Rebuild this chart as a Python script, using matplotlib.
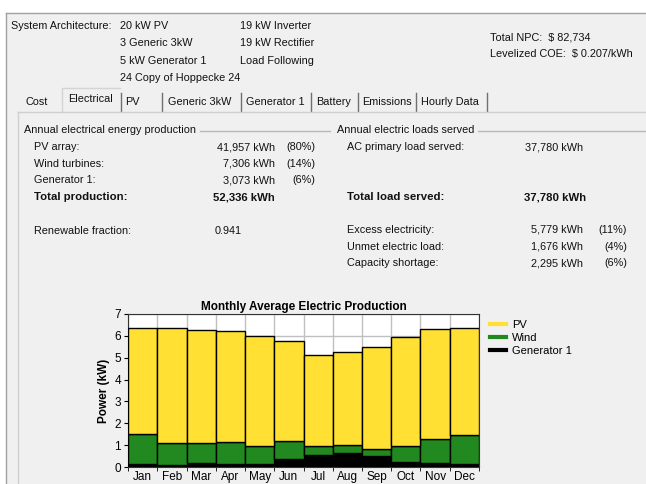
import matplotlib.pyplot as plt
from matplotlib.lines import Line2D
from matplotlib.patches import Rectangle
import numpy as np

# monthly average production (kW)
months = ['Jan', 'Feb', 'Mar', 'Apr', 'May', 'Jun', 'Jul', 'Aug', 'Sep', 'Oct', 'Nov', 'Dec']
gen1 = [0.15, 0.11, 0.20, 0.15, 0.15, 0.38, 0.54, 0.66, 0.49, 0.23, 0.18, 0.14]
wind_top = [1.51, 1.08, 1.08, 1.14, 0.95, 1.18, 0.95, 1.00, 0.82, 0.97, 1.28, 1.46]
total_top = [6.34, 6.34, 6.29, 6.20, 6.00, 5.78, 5.11, 5.26, 5.51, 5.97, 6.31, 6.35]
wind = [w - g for w, g in zip(wind_top, gen1)]
pv = [t - w for t, w in zip(total_top, wind_top)]

arch_col1 = ['20 kW PV', '3 Generic 3kW', '5 kW Generator 1', '24 Copy of Hoppecke 24']
arch_col2 = ['19 kW Inverter', '19 kW Rectifier', 'Load Following']
tabs = ['Cost', 'Electrical', 'PV', 'Generic 3kW', 'Generator 1', 'Battery', 'Emissions', 'Hourly Data']

prod_labels = ['PV array:', 'Wind turbines:', 'Generator 1:']
prod_values = ['41,957 kWh', '7,306 kWh', '3,073 kWh']
prod_pct = ['(80%)', '(14%)', '(6%)']
load_labels = ['Excess electricity:', 'Unmet electric load:', 'Capacity shortage:']
load_values = ['5,779 kWh', '1,676 kWh', '2,295 kWh']
load_pct = ['(11%)', '(4%)', '(6%)']

W, H = 646, 484
BG = '#f0f0f0'
YEL = '#ffe033'
GRN = '#21891f'
FS = 7.8
plt.rcParams['font.family'] = ['Liberation Sans', 'DejaVu Sans']

fig = plt.figure(figsize=(W / 100, H / 100), dpi=100, facecolor=BG)

# overlay in pixel coordinates for the dialog text
ov = fig.add_axes([0, 0, 1, 1], zorder=0)
ov.set_xlim(0, W)
ov.set_ylim(H, 0)
ov.axis('off')

def txt(x, y, s, ha='left', bold=False, size=FS):
    return ov.text(x, y, s, ha=ha, va='center', fontsize=size,
                   fontweight='bold' if bold else 'normal', color='#111111')

# window edges: white strip on top / left, then the frame
ov.add_patch(Rectangle((0, 0), W, 13, color='white', lw=0))
ov.add_patch(Rectangle((0, 0), 6, H, color='white', lw=0))
ov.plot([6, W], [13, 13], color='#a0a0a0', lw=1)
ov.plot([6, 6], [13, H], color='#a0a0a0', lw=1)

txt(11, 26, 'System Architecture:')
for i, s in enumerate(arch_col1):
    t = txt(120, 26 + i * 17.3, s)
    if i == 3:
        clip = Rectangle((0, 0), 239, H, transform=ov.transData, visible=False)
        ov.add_patch(clip)
        t.set_clip_path(clip)
for i, s in enumerate(arch_col2):
    txt(240, 26 + i * 17.3, s)
txt(490, 37, 'Total NPC:  $ 82,734')
txt(490, 54, 'Levelized COE:  $ 0.207/kWh')

# tabs
tab_x = [25, 68, 125, 168, 246, 316, 362, 421]
for x, s in zip(tab_x, tabs):
    txt(x, 102 if s != 'Electrical' else 99, s)
for x in [121, 162, 241, 311, 358, 416, 487]:
    ov.plot([x, x], [93, 111], color='#707070', lw=1)
ov.plot([62, 62, 120], [112, 88, 88], color='#d4d4d4', lw=1)
ov.plot([18, W], [112, 112], color='#cfcfcf', lw=1)
ov.plot([18, 18], [112, H], color='#cfcfcf', lw=1)

# annual production block
txt(24, 130, 'Annual electrical energy production')
ov.plot([200, 330], [131, 131], color='#b8b8b8', lw=1)
for i in range(3):
    y = 147 + i * 16.7
    txt(34, y, prod_labels[i])
    txt(275, y, prod_values[i], ha='right')
    txt(315, y, prod_pct[i], ha='right')
txt(34, 197, 'Total production:', bold=True, size=FS + 0.4)
txt(275, 197, '52,336 kWh', ha='right', bold=True, size=FS + 0.4)
txt(34, 231, 'Renewable fraction:')
txt(215, 231, '0.941')

# loads served block
txt(337, 130, 'Annual electric loads served')
ov.plot([478, W], [131, 131], color='#b8b8b8', lw=1)
txt(347, 147, 'AC primary load served:')
txt(583, 147, '37,780 kWh', ha='right')
txt(347, 197, 'Total load served:', bold=True, size=FS + 0.4)
txt(586, 197, '37,780 kWh', ha='right', bold=True, size=FS + 0.4)
for i in range(3):
    y = 230 + i * 16.7
    txt(347, y, load_labels[i])
    txt(583, y, load_values[i], ha='right')
    txt(627, y, load_pct[i], ha='right')

# chart
l, r, t, b = 128, 479, 314, 467
ax = fig.add_axes([l / W, 1 - b / H, (r - l) / W, (b - t) / H], zorder=2)
ax.set_facecolor('white')
x = np.arange(len(months))
ax.bar(x, gen1, width=1, color='black', edgecolor='black', lw=1, zorder=3)
ax.bar(x, wind, width=1, bottom=gen1, color=GRN, edgecolor='black', lw=1, zorder=3)
ax.bar(x, pv, width=1, bottom=wind_top, color=YEL, edgecolor='black', lw=1, zorder=3)
ax.set_xlim(-0.5, 11.5)
ax.set_ylim(0, 7)
ax.set_yticks(range(8))
ax.set_xticks(x)
ax.set_xticklabels(months)
ax.set_xticks(np.arange(-0.5, 12, 1), minor=True)
ax.tick_params(axis='x', which='major', length=0, labelsize=8.5, pad=3)
ax.tick_params(axis='x', which='minor', length=3)
ax.tick_params(axis='y', length=3, labelsize=8.5, pad=2)
ax.grid(True, which='minor', axis='x', color='#c0c0c0', lw=1, zorder=0)
ax.grid(True, which='major', axis='y', color='#c0c0c0', lw=1, zorder=0)
for sp in ax.spines.values():
    sp.set_color('#333333')
ax.set_ylabel('Power (kW)', fontsize=8.5, fontweight='bold', labelpad=3)
ax.set_title('Monthly Average Electric Production', fontsize=8.5, fontweight='bold', pad=3)

handles = [Line2D([], [], color=YEL, lw=3), Line2D([], [], color=GRN, lw=3),
           Line2D([], [], color='black', lw=3)]
ax.legend(handles, ['PV', 'Wind', 'Generator 1'], loc='upper left',
          bbox_to_anchor=(484 / W, 1 - 314 / H), bbox_transform=fig.transFigure,
          frameon=False, fontsize=8, handlelength=1.5, handletextpad=0.5,
          labelspacing=0.3, borderpad=0)

fig.savefig('out.png', dpi=100, facecolor=BG)
